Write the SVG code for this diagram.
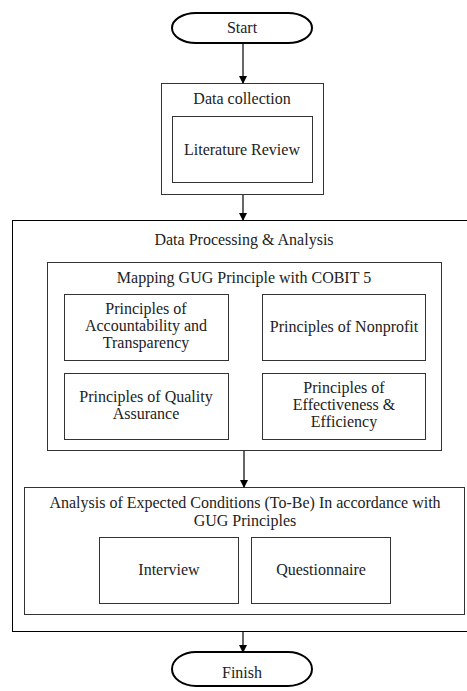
<svg xmlns="http://www.w3.org/2000/svg" width="467" height="691" viewBox="0 0 467 691">
<style>
  text { font-family: "Liberation Serif", "Times New Roman", serif; font-size: 16px; fill: #222; text-anchor: middle; }
  .box { fill: #fff; stroke: #333; stroke-width: 1; }
  .term { fill: #fff; stroke: #000; stroke-width: 2; }
  .edge { stroke: #000; stroke-width: 1.2; fill: none; marker-end: url(#arr); }
</style>
<defs>
  <marker id="arr" markerWidth="8" markerHeight="8" refX="7" refY="4" orient="auto" markerUnits="userSpaceOnUse">
    <path d="M0,0 L8,4 L0,8 Z" fill="#000"/>
  </marker>
</defs>
<rect width="467" height="691" fill="#fff"/>

<g id="start">
  <rect class="term" x="172" y="13" width="140" height="30" rx="24" ry="15"/>
  <text x="242" y="33">Start</text>
</g>

<g id="data-collection">
  <rect class="box" x="161.5" y="83.5" width="162" height="111"/>
  <text x="242" y="104">Data collection</text>
</g>
<g id="literature-review">
  <rect class="box" x="172.5" y="116.5" width="140" height="66"/>
  <text x="242" y="155">Literature Review</text>
</g>

<g id="data-processing">
  <rect class="box" x="12.5" y="220.5" width="470" height="411" style="stroke:#000"/>
  <text x="244" y="245">Data Processing &amp; Analysis</text>
</g>

<g id="mapping">
  <rect class="box" x="47.5" y="262.5" width="394" height="188"/>
  <text x="244" y="283">Mapping GUG Principle with COBIT 5</text>
</g>
<g id="p-accountability">
  <rect class="box" x="64.5" y="294.5" width="164" height="66"/>
  <text x="146" y="314">Principles of</text>
  <text x="146" y="331">Accountability and</text>
  <text x="146" y="348">Transparency</text>
</g>
<g id="p-nonprofit">
  <rect class="box" x="262.5" y="294.5" width="163" height="66"/>
  <text x="344" y="332">Principles of Nonprofit</text>
</g>
<g id="p-quality">
  <rect class="box" x="64.5" y="373.5" width="164" height="66"/>
  <text x="146" y="402">Principles of Quality</text>
  <text x="146" y="419">Assurance</text>
</g>
<g id="p-effectiveness">
  <rect class="box" x="262.5" y="373.5" width="163" height="66"/>
  <text x="344" y="393">Principles of</text>
  <text x="344" y="410">Effectiveness &amp;</text>
  <text x="344" y="427">Efficiency</text>
</g>

<g id="analysis">
  <rect class="box" x="24.5" y="487.5" width="440" height="127"/>
  <text x="245" y="508">Analysis of Expected Conditions (To-Be) In accordance with</text>
  <text x="245" y="526">GUG Principles</text>
</g>
<g id="interview">
  <rect class="box" x="99.5" y="537.5" width="139" height="66"/>
  <text x="169" y="575">Interview</text>
</g>
<g id="questionnaire">
  <rect class="box" x="251.5" y="537.5" width="139" height="66"/>
  <text x="321" y="575">Questionnaire</text>
</g>

<g id="finish">
  <rect class="term" x="172" y="652" width="140" height="34" rx="24" ry="17"/>
  <text x="242" y="678">Finish</text>
</g>

<g id="connectors">
  <line class="edge" x1="243" y1="44" x2="243" y2="83"/>
  <line class="edge" x1="243" y1="195" x2="243" y2="220"/>
  <line class="edge" x1="244" y1="451" x2="244" y2="487"/>
  <line class="edge" x1="243" y1="632" x2="243" y2="652"/>
</g>
</svg>
